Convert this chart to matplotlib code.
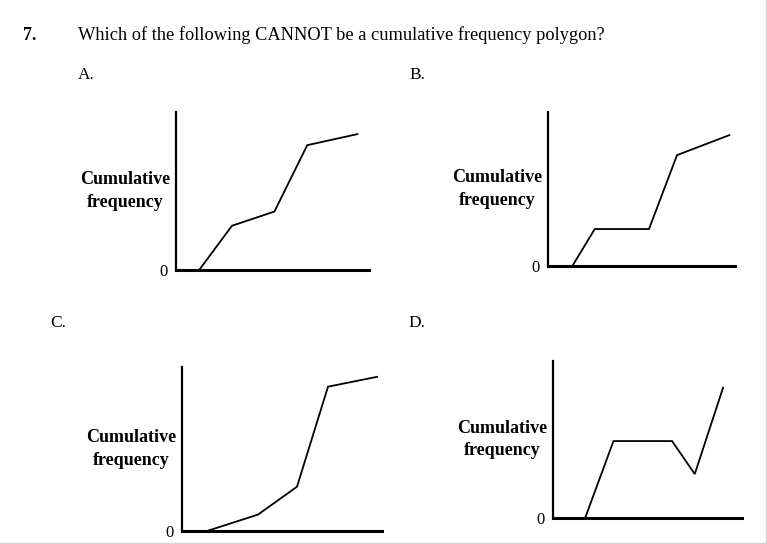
import matplotlib
matplotlib.use("Agg")
import matplotlib.pyplot as plt
from matplotlib.lines import Line2D

plt.rcParams["font.family"] = ["Liberation Serif", "DejaVu Serif"]

# ── Data (arbitrary units, axes run 0–10) ─────────────────────────────────────
panels = ["A.", "B.", "C.", "D."]

a_x = [1.2, 2.9, 5.1, 6.8, 9.4]
a_y = [0.0, 2.8, 3.7, 7.9, 8.6]

b_x = [1.3, 2.5, 5.4, 6.9, 9.7]
b_y = [0.0, 2.4, 2.4, 7.2, 8.5]

c_x = [1.25, 3.8, 5.75, 7.3, 9.75]
c_y = [0.0, 1.0, 2.7, 8.8, 9.4]

d_x = [1.7, 3.2, 6.3, 7.5, 9.0]
d_y = [0.0, 4.9, 4.9, 2.8, 8.3]

question = "Which of the following CANNOT be a cumulative frequency polygon?"
ylabel = "Cumulative\nfrequency"

W, H = 767, 544

# axis boxes in pixels: (left, top, right, bottom)
boxes = [(176, 112, 369, 270), (548, 112, 735, 266),
         (182, 367, 382, 531), (553, 361, 742, 518)]
letter_pos = [(78, 75), (409, 75), (50, 323), (408, 323)]
series = [(a_x, a_y), (b_x, b_y), (c_x, c_y), (d_x, d_y)]

fig = plt.figure(figsize=(W / 100, H / 100), dpi=100)
fig.patch.set_facecolor("white")

fig.text(23 / W, 1 - 35 / H, "7.", fontsize=13, fontweight="bold", va="center")
fig.text(78 / W, 1 - 35 / H, question, fontsize=13.2, va="center")

for (l, t, r, b), (px, py), (xs, ys), name in zip(boxes, letter_pos, series, panels):
    ax = fig.add_axes([l / W, 1 - b / H, (r - l) / W, (b - t) / H])
    ax.plot(xs, ys, color="black", lw=1.3, solid_joinstyle="miter")
    ax.set_xlim(0, 10)
    ax.set_ylim(0, 10)
    for s in ("top", "right"):
        ax.spines[s].set_visible(False)
    ax.spines["left"].set_linewidth(1.6)
    ax.spines["bottom"].set_linewidth(2.2)
    ax.set_xticks([])
    ax.set_yticks([0])
    ax.set_yticklabels(["0"], fontsize=12)
    ax.tick_params(axis="y", length=0, pad=6)
    ax.patch.set_alpha(0)
    ax.text(-51 / (r - l), 0.50, ylabel, transform=ax.transAxes,
            ha="center", va="center", fontsize=13, fontweight="bold",
            linespacing=1.4)
    fig.text(px / W, 1 - py / H, name, fontsize=12.5, va="center")

# light page border on right / bottom edges
fig.add_artist(Line2D([765.5 / W, 765.5 / W], [0, 1], color="#d4d4d4", lw=1))
fig.add_artist(Line2D([0, 1], [1.5 / H, 1.5 / H], color="#d4d4d4", lw=1))

fig.savefig("out.png", dpi=100, facecolor="white")
